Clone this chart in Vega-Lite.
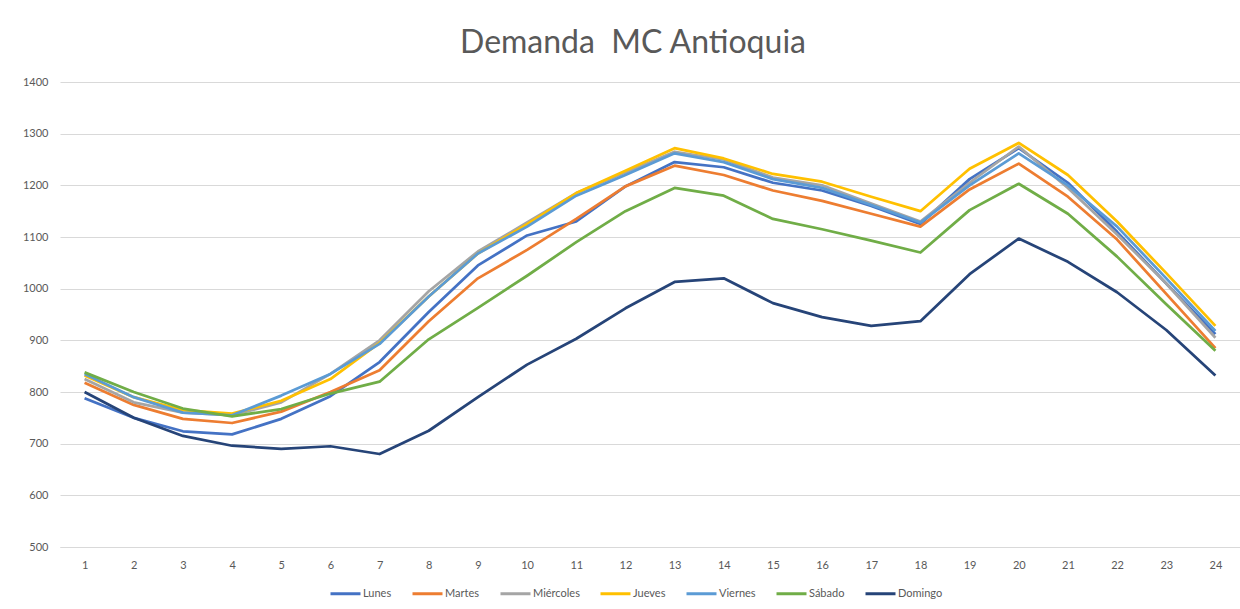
{
  "$schema": "https://vega.github.io/schema/vega-lite/v6.json",
  "width": 1180,
  "height": 465,
  "autosize": {"type": "none"},
  "padding": {"left": 60, "top": 82, "right": 0, "bottom": 62},
  "background": "white",
  "title": {
    "text": "Demanda\u00a0 MC Antioquia",
    "font": "Lato",
    "fontSize": 32,
    "fontWeight": "normal",
    "color": "#595959",
    "anchor": "middle",
    "frame": "group",
    "dx": -17,
    "offset": 16
  },
  "data": {
    "values": [
      {"hora": 1, "dia": "Lunes", "demanda": 788}, {"hora": 2, "dia": "Lunes", "demanda": 750}, {"hora": 3, "dia": "Lunes", "demanda": 724}, {"hora": 4, "dia": "Lunes", "demanda": 718}, {"hora": 5, "dia": "Lunes", "demanda": 748}, {"hora": 6, "dia": "Lunes", "demanda": 792}, {"hora": 7, "dia": "Lunes", "demanda": 858}, {"hora": 8, "dia": "Lunes", "demanda": 955}, {"hora": 9, "dia": "Lunes", "demanda": 1045}, {"hora": 10, "dia": "Lunes", "demanda": 1103}, {"hora": 11, "dia": "Lunes", "demanda": 1130}, {"hora": 12, "dia": "Lunes", "demanda": 1198}, {"hora": 13, "dia": "Lunes", "demanda": 1245}, {"hora": 14, "dia": "Lunes", "demanda": 1235}, {"hora": 15, "dia": "Lunes", "demanda": 1205}, {"hora": 16, "dia": "Lunes", "demanda": 1190}, {"hora": 17, "dia": "Lunes", "demanda": 1160}, {"hora": 18, "dia": "Lunes", "demanda": 1125}, {"hora": 19, "dia": "Lunes", "demanda": 1212}, {"hora": 20, "dia": "Lunes", "demanda": 1272}, {"hora": 21, "dia": "Lunes", "demanda": 1205}, {"hora": 22, "dia": "Lunes", "demanda": 1110}, {"hora": 23, "dia": "Lunes", "demanda": 1010}, {"hora": 24, "dia": "Lunes", "demanda": 912},
      {"hora": 1, "dia": "Martes", "demanda": 818}, {"hora": 2, "dia": "Martes", "demanda": 775}, {"hora": 3, "dia": "Martes", "demanda": 748}, {"hora": 4, "dia": "Martes", "demanda": 740}, {"hora": 5, "dia": "Martes", "demanda": 762}, {"hora": 6, "dia": "Martes", "demanda": 800}, {"hora": 7, "dia": "Martes", "demanda": 842}, {"hora": 8, "dia": "Martes", "demanda": 937}, {"hora": 9, "dia": "Martes", "demanda": 1020}, {"hora": 10, "dia": "Martes", "demanda": 1075}, {"hora": 11, "dia": "Martes", "demanda": 1135}, {"hora": 12, "dia": "Martes", "demanda": 1198}, {"hora": 13, "dia": "Martes", "demanda": 1238}, {"hora": 14, "dia": "Martes", "demanda": 1220}, {"hora": 15, "dia": "Martes", "demanda": 1190}, {"hora": 16, "dia": "Martes", "demanda": 1170}, {"hora": 17, "dia": "Martes", "demanda": 1145}, {"hora": 18, "dia": "Martes", "demanda": 1120}, {"hora": 19, "dia": "Martes", "demanda": 1192}, {"hora": 20, "dia": "Martes", "demanda": 1242}, {"hora": 21, "dia": "Martes", "demanda": 1178}, {"hora": 22, "dia": "Martes", "demanda": 1095}, {"hora": 23, "dia": "Martes", "demanda": 990}, {"hora": 24, "dia": "Martes", "demanda": 885},
      {"hora": 1, "dia": "Miércoles", "demanda": 825}, {"hora": 2, "dia": "Miércoles", "demanda": 780}, {"hora": 3, "dia": "Miércoles", "demanda": 760}, {"hora": 4, "dia": "Miércoles", "demanda": 755}, {"hora": 5, "dia": "Miércoles", "demanda": 780}, {"hora": 6, "dia": "Miércoles", "demanda": 835}, {"hora": 7, "dia": "Miércoles", "demanda": 900}, {"hora": 8, "dia": "Miércoles", "demanda": 995}, {"hora": 9, "dia": "Miércoles", "demanda": 1072}, {"hora": 10, "dia": "Miércoles", "demanda": 1128}, {"hora": 11, "dia": "Miércoles", "demanda": 1185}, {"hora": 12, "dia": "Miércoles", "demanda": 1225}, {"hora": 13, "dia": "Miércoles", "demanda": 1265}, {"hora": 14, "dia": "Miércoles", "demanda": 1250}, {"hora": 15, "dia": "Miércoles", "demanda": 1215}, {"hora": 16, "dia": "Miércoles", "demanda": 1200}, {"hora": 17, "dia": "Miércoles", "demanda": 1165}, {"hora": 18, "dia": "Miércoles", "demanda": 1130}, {"hora": 19, "dia": "Miércoles", "demanda": 1205}, {"hora": 20, "dia": "Miércoles", "demanda": 1275}, {"hora": 21, "dia": "Miércoles", "demanda": 1195}, {"hora": 22, "dia": "Miércoles", "demanda": 1105}, {"hora": 23, "dia": "Miércoles", "demanda": 1010}, {"hora": 24, "dia": "Miércoles", "demanda": 905},
      {"hora": 1, "dia": "Jueves", "demanda": 832}, {"hora": 2, "dia": "Jueves", "demanda": 790}, {"hora": 3, "dia": "Jueves", "demanda": 765}, {"hora": 4, "dia": "Jueves", "demanda": 758}, {"hora": 5, "dia": "Jueves", "demanda": 783}, {"hora": 6, "dia": "Jueves", "demanda": 825}, {"hora": 7, "dia": "Jueves", "demanda": 895}, {"hora": 8, "dia": "Jueves", "demanda": 985}, {"hora": 9, "dia": "Jueves", "demanda": 1068}, {"hora": 10, "dia": "Jueves", "demanda": 1125}, {"hora": 11, "dia": "Jueves", "demanda": 1185}, {"hora": 12, "dia": "Jueves", "demanda": 1228}, {"hora": 13, "dia": "Jueves", "demanda": 1272}, {"hora": 14, "dia": "Jueves", "demanda": 1252}, {"hora": 15, "dia": "Jueves", "demanda": 1222}, {"hora": 16, "dia": "Jueves", "demanda": 1207}, {"hora": 17, "dia": "Jueves", "demanda": 1178}, {"hora": 18, "dia": "Jueves", "demanda": 1150}, {"hora": 19, "dia": "Jueves", "demanda": 1232}, {"hora": 20, "dia": "Jueves", "demanda": 1282}, {"hora": 21, "dia": "Jueves", "demanda": 1220}, {"hora": 22, "dia": "Jueves", "demanda": 1130}, {"hora": 23, "dia": "Jueves", "demanda": 1030}, {"hora": 24, "dia": "Jueves", "demanda": 928},
      {"hora": 1, "dia": "Viernes", "demanda": 835}, {"hora": 2, "dia": "Viernes", "demanda": 790}, {"hora": 3, "dia": "Viernes", "demanda": 760}, {"hora": 4, "dia": "Viernes", "demanda": 755}, {"hora": 5, "dia": "Viernes", "demanda": 793}, {"hora": 6, "dia": "Viernes", "demanda": 835}, {"hora": 7, "dia": "Viernes", "demanda": 893}, {"hora": 8, "dia": "Viernes", "demanda": 985}, {"hora": 9, "dia": "Viernes", "demanda": 1068}, {"hora": 10, "dia": "Viernes", "demanda": 1120}, {"hora": 11, "dia": "Viernes", "demanda": 1180}, {"hora": 12, "dia": "Viernes", "demanda": 1220}, {"hora": 13, "dia": "Viernes", "demanda": 1262}, {"hora": 14, "dia": "Viernes", "demanda": 1245}, {"hora": 15, "dia": "Viernes", "demanda": 1212}, {"hora": 16, "dia": "Viernes", "demanda": 1195}, {"hora": 17, "dia": "Viernes", "demanda": 1162}, {"hora": 18, "dia": "Viernes", "demanda": 1128}, {"hora": 19, "dia": "Viernes", "demanda": 1200}, {"hora": 20, "dia": "Viernes", "demanda": 1262}, {"hora": 21, "dia": "Viernes", "demanda": 1200}, {"hora": 22, "dia": "Viernes", "demanda": 1120}, {"hora": 23, "dia": "Viernes", "demanda": 1020}, {"hora": 24, "dia": "Viernes", "demanda": 918},
      {"hora": 1, "dia": "Sábado", "demanda": 838}, {"hora": 2, "dia": "Sábado", "demanda": 800}, {"hora": 3, "dia": "Sábado", "demanda": 768}, {"hora": 4, "dia": "Sábado", "demanda": 753}, {"hora": 5, "dia": "Sábado", "demanda": 767}, {"hora": 6, "dia": "Sábado", "demanda": 797}, {"hora": 7, "dia": "Sábado", "demanda": 820}, {"hora": 8, "dia": "Sábado", "demanda": 902}, {"hora": 9, "dia": "Sábado", "demanda": 963}, {"hora": 10, "dia": "Sábado", "demanda": 1025}, {"hora": 11, "dia": "Sábado", "demanda": 1090}, {"hora": 12, "dia": "Sábado", "demanda": 1150}, {"hora": 13, "dia": "Sábado", "demanda": 1195}, {"hora": 14, "dia": "Sábado", "demanda": 1180}, {"hora": 15, "dia": "Sábado", "demanda": 1135}, {"hora": 16, "dia": "Sábado", "demanda": 1115}, {"hora": 17, "dia": "Sábado", "demanda": 1093}, {"hora": 18, "dia": "Sábado", "demanda": 1070}, {"hora": 19, "dia": "Sábado", "demanda": 1152}, {"hora": 20, "dia": "Sábado", "demanda": 1203}, {"hora": 21, "dia": "Sábado", "demanda": 1145}, {"hora": 22, "dia": "Sábado", "demanda": 1062}, {"hora": 23, "dia": "Sábado", "demanda": 970}, {"hora": 24, "dia": "Sábado", "demanda": 880},
      {"hora": 1, "dia": "Domingo", "demanda": 800}, {"hora": 2, "dia": "Domingo", "demanda": 750}, {"hora": 3, "dia": "Domingo", "demanda": 715}, {"hora": 4, "dia": "Domingo", "demanda": 696}, {"hora": 5, "dia": "Domingo", "demanda": 690}, {"hora": 6, "dia": "Domingo", "demanda": 695}, {"hora": 7, "dia": "Domingo", "demanda": 680}, {"hora": 8, "dia": "Domingo", "demanda": 725}, {"hora": 9, "dia": "Domingo", "demanda": 790}, {"hora": 10, "dia": "Domingo", "demanda": 853}, {"hora": 11, "dia": "Domingo", "demanda": 903}, {"hora": 12, "dia": "Domingo", "demanda": 962}, {"hora": 13, "dia": "Domingo", "demanda": 1013}, {"hora": 14, "dia": "Domingo", "demanda": 1020}, {"hora": 15, "dia": "Domingo", "demanda": 972}, {"hora": 16, "dia": "Domingo", "demanda": 945}, {"hora": 17, "dia": "Domingo", "demanda": 928}, {"hora": 18, "dia": "Domingo", "demanda": 937}, {"hora": 19, "dia": "Domingo", "demanda": 1028}, {"hora": 20, "dia": "Domingo", "demanda": 1097}, {"hora": 21, "dia": "Domingo", "demanda": 1052}, {"hora": 22, "dia": "Domingo", "demanda": 993}, {"hora": 23, "dia": "Domingo", "demanda": 920}, {"hora": 24, "dia": "Domingo", "demanda": 832}
    ]
  },
  "mark": {"type": "line", "strokeWidth": 2.75, "strokeJoin": "round"},
  "encoding": {
    "x": {
      "field": "hora",
      "type": "ordinal",
      "sort": "ascending",
      "scale": {"type": "point", "padding": 0.5},
      "axis": {
        "title": null,
        "labelAngle": 0,
        "ticks": false,
        "domain": true,
        "domainColor": "#d9d9d9",
        "labelPadding": 12,
        "labelFont": "Lato",
        "labelFontSize": 11,
        "labelColor": "#595959",
        "grid": false
      }
    },
    "y": {
      "field": "demanda",
      "type": "quantitative",
      "scale": {"domain": [500, 1400], "nice": false, "zero": false},
      "axis": {
        "title": null,
        "values": [500, 600, 700, 800, 900, 1000, 1100, 1200, 1300, 1400],
        "format": "d",
        "ticks": false,
        "domain": false,
        "grid": true,
        "gridColor": "#d9d9d9",
        "gridWidth": 1,
        "labelPadding": 12,
        "labelFont": "Lato",
        "labelFontSize": 11,
        "labelColor": "#595959"
      }
    },
    "color": {
      "field": "dia",
      "type": "nominal",
      "sort": ["Lunes", "Martes", "Miércoles", "Jueves", "Viernes", "Sábado", "Domingo"],
      "scale": {
        "domain": ["Lunes", "Martes", "Miércoles", "Jueves", "Viernes", "Sábado", "Domingo"],
        "range": ["#4472C4", "#ED7D31", "#A5A5A5", "#FFC000", "#5B9BD5", "#70AD47", "#264478"]
      },
      "legend": {
        "title": null,
        "orient": "none",
        "direction": "horizontal",
        "legendX": 269,
        "legendY": 495,
        "symbolType": "stroke",
        "symbolSize": 900,
        "symbolStrokeWidth": 3,
        "labelOffset": 1,
        "columnPadding": 14,
        "labelFont": "Lato",
        "labelFontSize": 11,
        "labelColor": "#595959"
      }
    }
  },
  "config": {
    "view": {"stroke": null}
  }
}
